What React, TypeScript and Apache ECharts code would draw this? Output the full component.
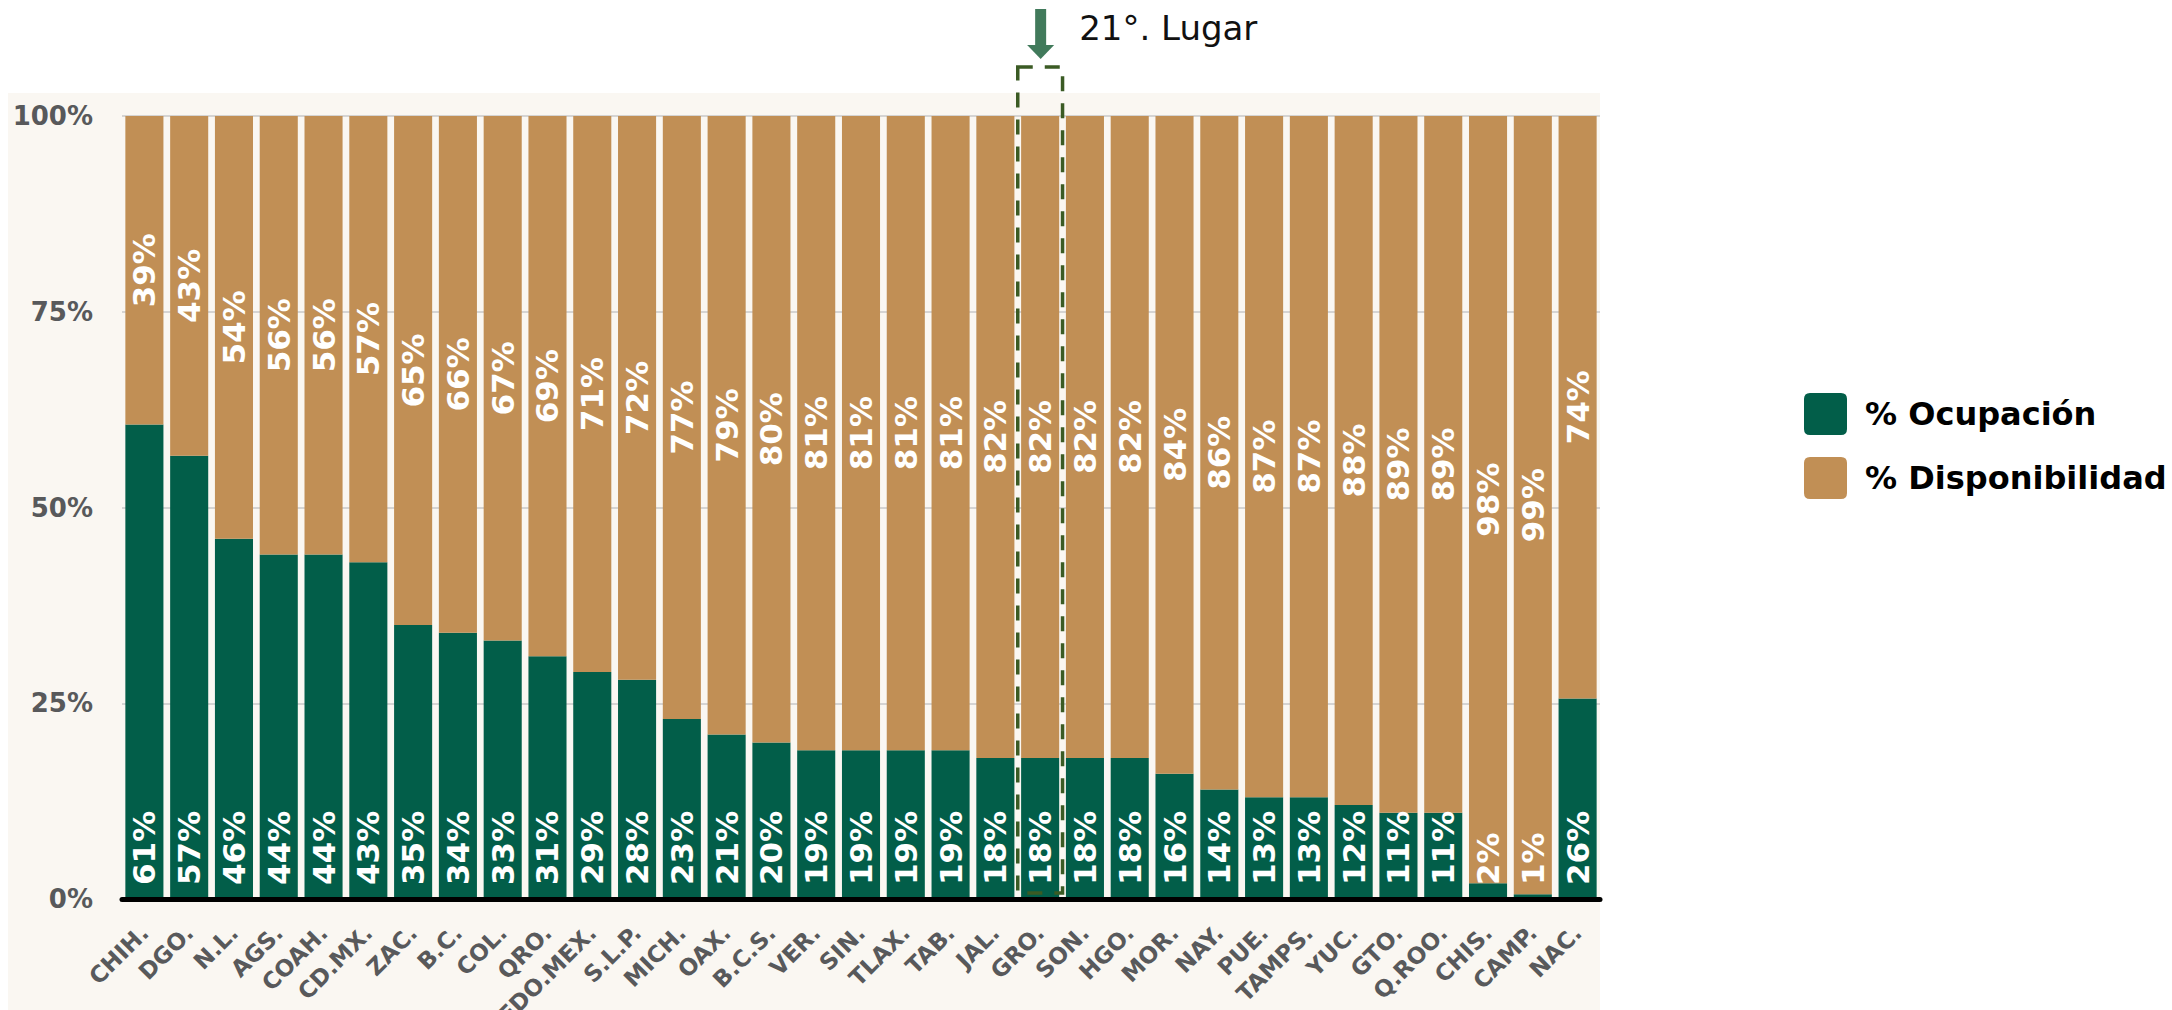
import React, { useEffect, useRef } from "react";
import * as echarts from "echarts";

const categories = [
  "CHIH.", "DGO.", "N.L.", "AGS.", "COAH.", "CD.MX.", "ZAC.", "B.C.", "COL.", "QRO.",
  "EDO.MEX.", "S.L.P.", "MICH.", "OAX.", "B.C.S.", "VER.", "SIN.", "TLAX.", "TAB.", "JAL.",
  "GRO.", "SON.", "HGO.", "MOR.", "NAY.", "PUE.", "TAMPS.", "YUC.", "GTO.", "Q.ROO.",
  "CHIS.", "CAMP.", "NAC.",
];
const ocupacion = [
  60.6, 56.6, 46, 44, 44, 43, 35, 34, 33, 31,
  29, 28, 23, 21, 20, 19, 19, 19, 19, 18,
  18, 18, 18, 16, 14, 13, 13, 12, 11, 11,
  2, 0.6, 25.6,
];
const disponibilidad = [
  39.4, 43.4, 54, 56, 56, 57, 65, 66, 67, 69,
  71, 72, 77, 79, 80, 81, 81, 81, 81, 82,
  82, 82, 82, 84, 86, 87, 87, 88, 89, 89,
  98, 99.4, 74.4,
];
const yTicks = [0, 25, 50, 75, 100];
const seriesNames = ["% Ocupación", "% Disponibilidad"];
const highlightCategory = "GRO.";
const highlightText = "21°. Lugar";

const GREEN = "#025e49";
const TAN = "#c18f55";
const FONT = "DejaVu Sans";

export default function App() {
  const ref = useRef<HTMLDivElement>(null);

  useEffect(() => {
    document.body.style.margin = "0";
    const chart = echarts.init(ref.current!, null, { renderer: "svg" });
    const option: any = {
      animation: false,
      backgroundColor: "#ffffff",
      grid: {
        left: 122,
        right: 572,
        top: 116,
        bottom: 111,
        containLabel: false,
        outerBoundsMode: "none",
      },
      legend: {
        orient: "vertical",
        left: 1799,
        top: 388,
        itemWidth: 43,
        itemHeight: 42,
        itemGap: 22,
        icon: "path://M6,0 L37,0 Q43,0 43,6 L43,36 Q43,42 37,42 L6,42 Q0,42 0,36 L0,6 Q0,0 6,0 Z",
        textStyle: {
          fontFamily: FONT,
          fontWeight: "bold",
          fontSize: 32,
          color: "#000000",
          padding: [0, 0, 0, 13],
        },
        data: seriesNames,
      },
      xAxis: {
        type: "category",
        data: categories,
        offset: 3,
        z: 5,
        axisLine: { show: true, lineStyle: { color: "#000000", width: 5 } },
        axisTick: { show: false },
        axisLabel: {
          interval: 0,
          rotate: 45,
          margin: 27,
          fontFamily: FONT,
          fontWeight: "bold",
          fontSize: 23,
          color: "#58595b",
        },
      },
      yAxis: {
        type: "value",
        min: yTicks[0],
        max: yTicks[yTicks.length - 1],
        interval: yTicks[1] - yTicks[0],
        axisLine: { show: false },
        axisTick: { show: false },
        splitLine: { show: true, lineStyle: { color: "#c9c9c9", width: 1.5 } },
        axisLabel: {
          formatter: "{value}%",
          margin: 29,
          fontFamily: FONT,
          fontWeight: "bold",
          fontSize: 26,
          color: "#58595b",
        },
      },
      series: [
        {
          name: seriesNames[0],
          type: "bar",
          stack: "total",
          data: ocupacion,
          barCategoryGap: "15%",
          itemStyle: { color: GREEN },
          label: {
            show: true,
            position: "insideBottom",
            distance: 14,
            rotate: 90,
            align: "left",
            verticalAlign: "middle",
            formatter: (p: any) => Math.round(p.value) + "%",
            fontFamily: FONT,
            fontWeight: "bold",
            fontSize: 31,
            color: "#ffffff",
          },
        },
        {
          name: seriesNames[1],
          type: "bar",
          stack: "total",
          data: disponibilidad,
          barCategoryGap: "15%",
          itemStyle: { color: TAN },
          label: {
            show: true,
            position: "inside",
            rotate: 90,
            align: "center",
            verticalAlign: "middle",
            formatter: (p: any) => Math.round(p.value) + "%",
            fontFamily: FONT,
            fontWeight: "bold",
            fontSize: 31,
            color: "#ffffff",
          },
        },
      ],
    };
    chart.setOption(option);

    const idx = categories.indexOf(highlightCategory);
    const conv = (c: number, v: number) =>
      chart.convertToPixel({ xAxisIndex: 0, yAxisIndex: 0 }, [c, v]) as number[];
    const p0 = conv(idx, 0);
    const pTop = conv(idx, 100);
    const pNext = conv(idx + 1, 0);
    const pLast = conv(categories.length - 1, 0);
    const pitch = pNext[0] - p0[0];
    const cx = p0[0];
    const yTop = pTop[1];
    const yBottom = p0[1];
    const gridRight = pLast[0] + pitch / 2;

    const bg: any[] = [
      {
        type: "rect",
        z: -100,
        silent: true,
        shape: { x: 8, y: yTop - 23, width: gridRight - 8, height: 1010 - (yTop - 23) },
        style: { fill: "#faf7f2" },
      },
    ];

    const annot: any[] = [
      {
        type: "rect",
        z: 100,
        silent: true,
        shape: { x: cx - pitch / 2, y: yTop - 49, width: pitch, height: yBottom - 6 - (yTop - 49) },
        style: { fill: "none", stroke: "#3b5b24", lineWidth: 3.5, lineDash: [15, 12] },
      },
      {
        type: "rect",
        z: 100,
        silent: true,
        shape: { x: cx - 5, y: yTop - 107, width: 11, height: 37 },
        style: { fill: "#417a5b" },
      },
      {
        type: "polygon",
        z: 100,
        silent: true,
        shape: { points: [[cx - 13, yTop - 71], [cx + 14, yTop - 71], [cx + 0.5, yTop - 57]] },
        style: { fill: "#417a5b" },
      },
      {
        type: "text",
        z: 100,
        silent: true,
        x: cx + 39,
        y: yTop - 88,
        style: {
          text: highlightText,
          fontFamily: FONT,
          fontSize: 34,
          fill: "#111111",
          textVerticalAlign: "middle",
          verticalAlign: "middle",
        },
      },
    ];

    chart.setOption({ graphic: { elements: [...bg, ...annot] } });
    return () => chart.dispose();
  }, []);

  return <div ref={ref} style={{ width: 2172, height: 1010 }} />;
}
